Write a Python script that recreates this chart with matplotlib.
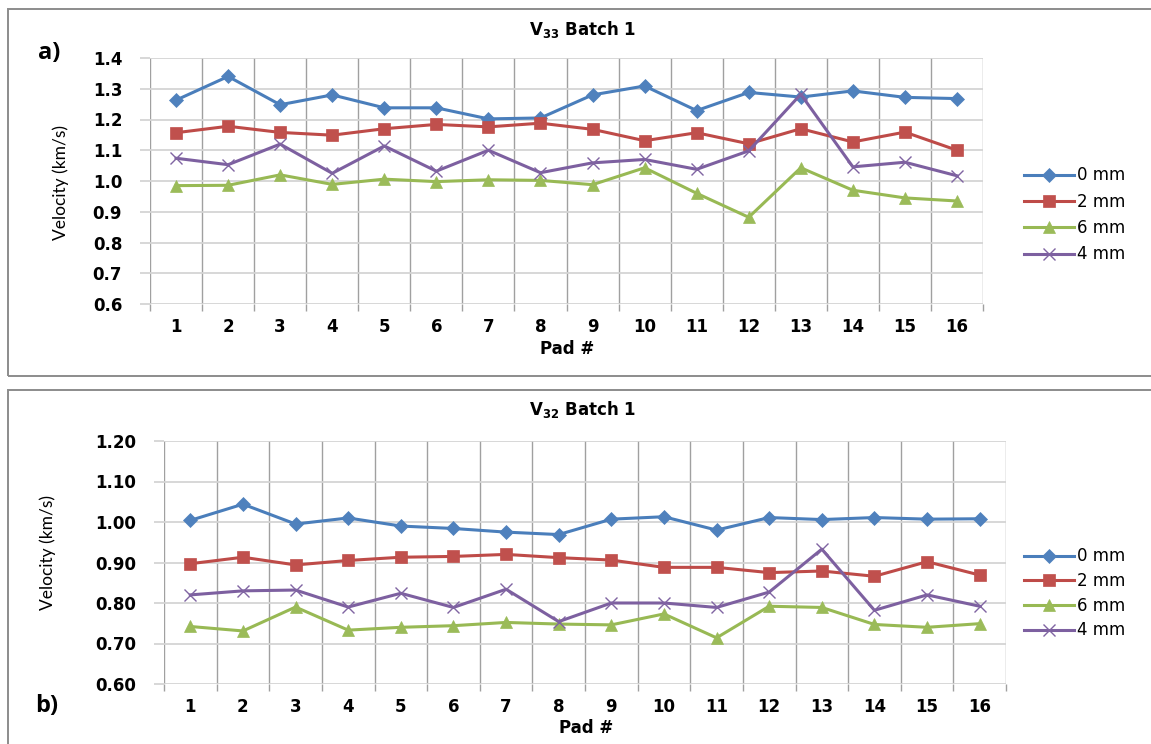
import matplotlib
matplotlib.use("Agg")
import matplotlib.pyplot as plt
from matplotlib.patches import Rectangle
import numpy as np

pads = list(range(1, 17))
series_names = ["0 mm", "2 mm", "6 mm", "4 mm"]

# V33 Batch 1 (km/s)
v33_0mm = [1.263, 1.340, 1.248, 1.280, 1.238, 1.238, 1.202, 1.205,
           1.280, 1.309, 1.229, 1.288, 1.273, 1.293, 1.272, 1.268]
v33_2mm = [1.157, 1.178, 1.158, 1.149, 1.170, 1.184, 1.176, 1.188,
           1.168, 1.131, 1.157, 1.121, 1.170, 1.127, 1.159, 1.100]
v33_6mm = [0.985, 0.986, 1.020, 0.989, 1.006, 0.998, 1.004, 1.002,
           0.988, 1.043, 0.960, 0.882, 1.043, 0.970, 0.945, 0.935]
v33_4mm = [1.074, 1.053, 1.120, 1.025, 1.114, 1.032, 1.100, 1.027,
           1.059, 1.070, 1.038, 1.098, 1.282, 1.046, 1.061, 1.017]

# V32 Batch 1 (km/s)
v32_0mm = [1.004, 1.044, 0.995, 1.010, 0.990, 0.984, 0.975, 0.969,
           1.007, 1.013, 0.980, 1.011, 1.006, 1.011, 1.007, 1.008]
v32_2mm = [0.897, 0.913, 0.894, 0.905, 0.913, 0.915, 0.920, 0.912,
           0.906, 0.888, 0.888, 0.875, 0.879, 0.866, 0.902, 0.869]
v32_6mm = [0.742, 0.731, 0.790, 0.733, 0.740, 0.744, 0.752, 0.748,
           0.746, 0.773, 0.714, 0.792, 0.789, 0.747, 0.740, 0.749]
v32_4mm = [0.820, 0.830, 0.832, 0.790, 0.824, 0.789, 0.834, 0.754,
           0.800, 0.800, 0.789, 0.827, 0.933, 0.782, 0.820, 0.792]

colors = ["#4A7EBB", "#BE4B48", "#98B954", "#7D60A0"]
mcolors = ["#4F81BD", "#C0504D", "#9BBB59", "#8064A2"]
markers = ["D", "s", "^", "x"]
msizes = [7, 9, 9, 9]

plt.rcParams["mathtext.fontset"] = "dejavusans"

W, H = 1151, 744
fig = plt.figure(figsize=(W / 100, H / 100), dpi=100)


def fx(px):
    return px / W


def fy(py):
    return 1 - py / H


# panel frames
fig.patches.append(Rectangle((fx(8), fy(376)), fx(1160), fy(9) - fy(376),
                             transform=fig.transFigure, fill=False,
                             edgecolor="#8C8C8C", lw=1.4))
fig.patches.append(Rectangle((fx(8), fy(760)), fx(1160), fy(390) - fy(760),
                             transform=fig.transFigure, fill=False,
                             edgecolor="#8C8C8C", lw=1.4))


def draw(ax, data, ylim, yticks, yfmt, legend_top, spacing):
    for vals, name, c, mc, m, ms in zip(data, series_names, colors, mcolors, markers, msizes):
        ax.plot(pads, vals, color=c, lw=2.2, marker=m, ms=ms,
                markerfacecolor=mc, markeredgecolor=mc,
                mew=1.0 if m == "x" else 0.5, label=name, zorder=3)
    ax.set_xlim(0.5, 16.5)
    ax.set_ylim(*ylim)
    ax.set_yticks(yticks)
    ax.set_yticklabels([yfmt.format(v) for v in yticks])
    ax.set_xticks(pads)
    ax.set_xticks(np.arange(0.5, 17, 1), minor=True)
    for s in ax.spines.values():
        s.set_visible(False)
    ax.grid(axis="y", which="major", color="#D4D4D4", lw=1.3)
    ax.grid(axis="x", which="minor", color="#A0A0A0", lw=1.0)
    ax.tick_params(axis="x", which="major", length=0, pad=10, labelsize=12)
    ax.tick_params(axis="x", which="minor", length=5, color="#A0A0A0", width=1.0)
    ax.tick_params(axis="y", which="major", length=7, color="#D4D4D4", width=1.3,
                   pad=13, labelsize=12)
    for lab in ax.get_xticklabels() + ax.get_yticklabels():
        lab.set_fontweight("bold")
    ax.legend(loc="upper left", bbox_to_anchor=(fx(1016), fy(legend_top)),
              bbox_transform=fig.transFigure, frameon=False, fontsize=12,
              handlelength=3.0, handletextpad=0.15, labelspacing=spacing,
              borderpad=0)


ax1 = fig.add_axes([fx(150), fy(304), fx(983) - fx(150), fy(58) - fy(304)])
draw(ax1, [v33_0mm, v33_2mm, v33_6mm, v33_4mm], (0.6, 1.4),
     [0.6, 0.7, 0.8, 0.9, 1.0, 1.1, 1.2, 1.3, 1.4], "{:.1f}", 158, 0.5)

ax2 = fig.add_axes([fx(164), fy(684), fx(1006) - fx(164), fy(441) - fy(684)])
draw(ax2, [v32_0mm, v32_2mm, v32_6mm, v32_4mm], (0.6, 1.2),
     [0.6, 0.7, 0.8, 0.9, 1.0, 1.1, 1.2], "{:.2f}", 539, 0.4)

# titles, axis labels, panel letters
fig.text(fx(583), fy(29), r"$\mathbf{V_{33}}$ Batch 1", ha="center", va="center",
         fontsize=12, fontweight="bold")
fig.text(fx(583), fy(410), r"$\mathbf{V_{32}}$ Batch 1", ha="center", va="center",
         fontsize=12, fontweight="bold")
fig.text(fx(567), fy(349), "Pad #", ha="center", va="center", fontsize=12, fontweight="bold")
fig.text(fx(586), fy(728), "Pad #", ha="center", va="center", fontsize=12, fontweight="bold")
fig.text(fx(61), fy(182), "Velocity (km/s)", rotation=90, ha="center", va="center",
         fontsize=12.5, family="Lato")
fig.text(fx(48), fy(552), "Velocity (km/s)", rotation=90, ha="center", va="center",
         fontsize=12.5, family="Lato")
fig.text(fx(49), fy(53), "a)", ha="center", va="center", fontsize=17,
         fontweight="bold", family="Open Sans")
fig.text(fx(47), fy(706), "b)", ha="center", va="center", fontsize=17,
         fontweight="bold", family="Open Sans")

fig.savefig("out.png", dpi=100)
